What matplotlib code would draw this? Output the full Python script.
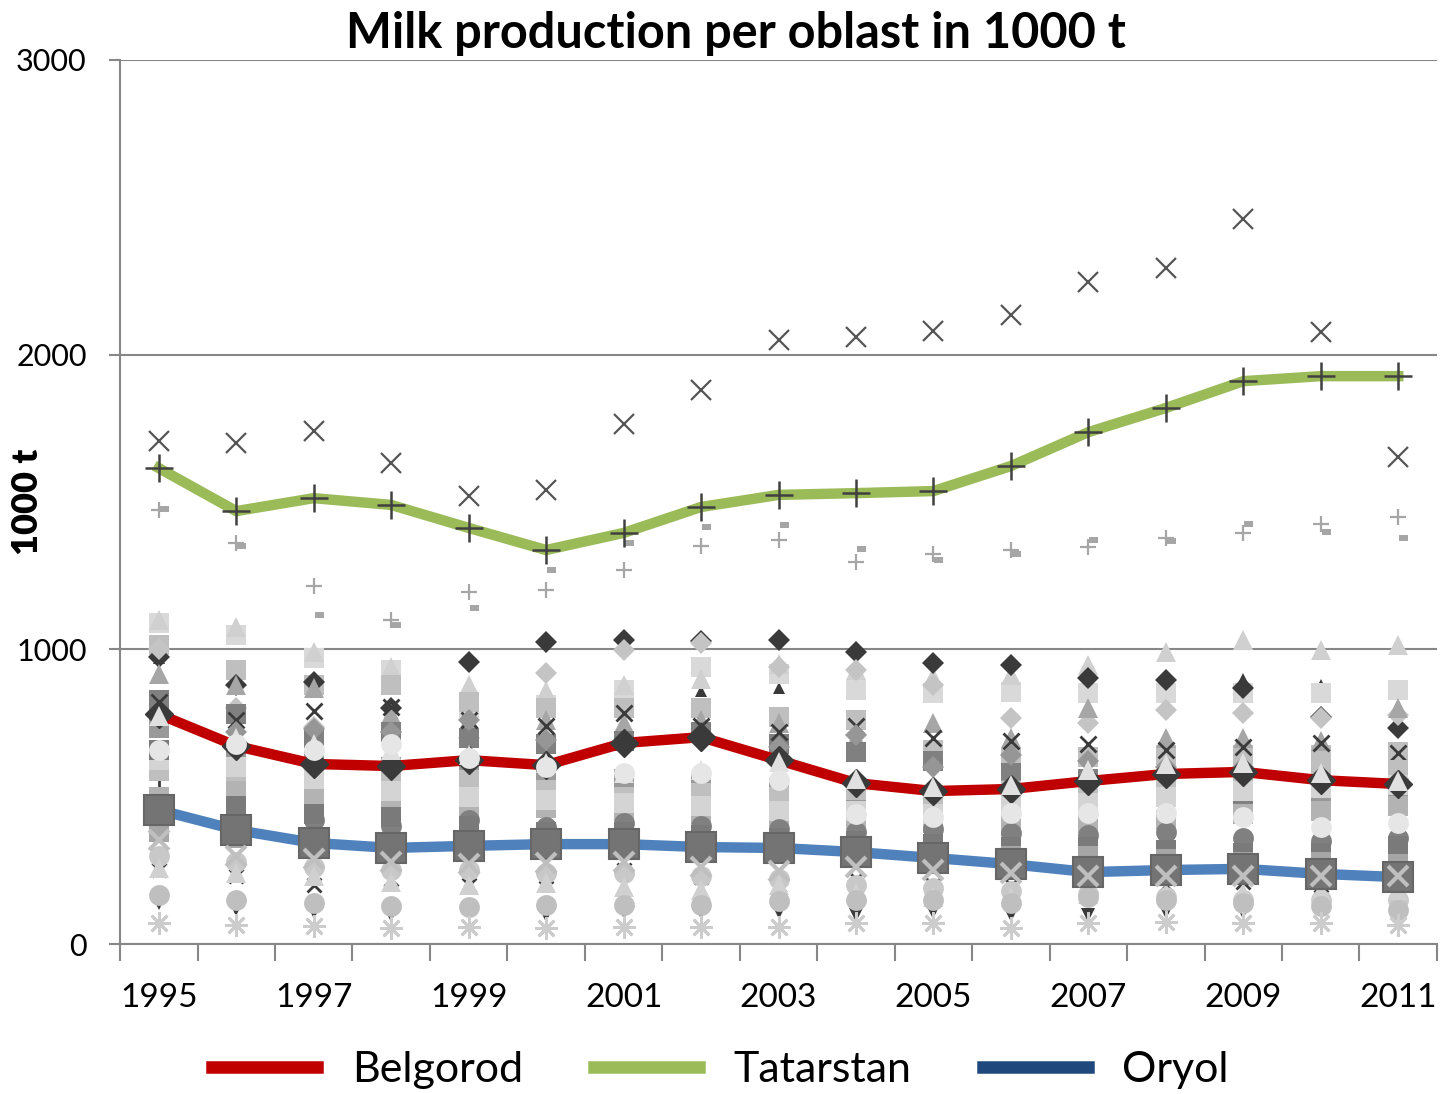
import matplotlib
matplotlib.use("Agg")
import matplotlib.pyplot as plt
from matplotlib.lines import Line2D

plt.rcParams["font.family"] = ["Lato", "DejaVu Sans"]

years = list(range(1995, 2012))
year_labels = [str(y) if (y - 1995) % 2 == 0 else "" for y in years]

# Highlighted oblasts (1000 t)
belgorod = [780, 672, 611, 604, 624, 607, 682, 702, 624, 546, 519, 526, 553, 577, 584, 556, 543]
tatarstan = [1615, 1469, 1513, 1490, 1412, 1337, 1395, 1483, 1524, 1530, 1537, 1622, 1737, 1819, 1910, 1927, 1927]
oryol = [455, 387, 343, 326, 333, 339, 339, 329, 326, 312, 292, 271, 244, 251, 255, 238, 227]

# Other oblasts, drawn as grey markers only
grey_x_top = [1707, 1700, 1741, 1632, 1520, 1541, 1765, 1880, 2050, 2060, 2080, 2134, 2246, 2294, 2460, 2077, 1653]
grey_plus_light = [1473, 1361, 1215, 1099, 1194, 1201, 1269, 1351, 1371, 1296, 1323, 1337, 1347, 1378, 1395, 1425, 1449]
grey_dash = [1475, 1351, 1116, 1082, 1140, 1269, 1361, 1415, 1422, 1340, 1303, 1323, 1371, 1367, 1425, 1398, 1378]
grey_sq_light = [1089, 1050, 970, 930, 800, 811, 862, 940, 916, 862, 852, 855, 852, 852, 852, 852, 862]
grey_tri_top = [1100, 1075, 990, 940, 880, 860, 880, 900, 950, 930, 906, 913, 947, 991, 1032, 998, 1015]
grey_sq_mid = [1015, 930, 880, 880, 820, 800, 800, 801, 770, 760, 658, 635, 635, 640, 640, 640, 650]
grey_dia_dark = [975, 880, 890, 800, 957, 1025, 1032, 1028, 1032, 991, 954, 947, 903, 895, 870, 770, 733]
grey_tri_dark = [970, 880, 890, 880, 860, 850, 880, 860, 870, 870, 870, 880, 903, 903, 900, 880, 740]
grey_dia_light = [1000, 800, 735, 720, 700, 919, 998, 1021, 940, 930, 880, 767, 750, 794, 784, 767, 777]
grey_tri_mid = [916, 880, 870, 780, 760, 760, 750, 760, 750, 700, 750, 700, 801, 700, 700, 690, 800]
grey_x_dark = [820, 760, 790, 804, 760, 740, 784, 740, 720, 740, 700, 690, 680, 660, 668, 682, 648]
grey_sq_dark = [828, 780, 700, 720, 700, 680, 690, 720, 680, 650, 620, 580, 560, 520, 489, 489, 478]
grey_dia_mid = [780, 720, 730, 720, 760, 692, 682, 690, 668, 710, 601, 640, 620, 600, 600, 560, 560]
grey_sq_grey = [733, 650, 620, 600, 590, 560, 560, 540, 530, 520, 506, 523, 520, 540, 520, 500, 510]
grey_tri_light = [773, 700, 680, 660, 640, 614, 580, 590, 618, 560, 533, 540, 590, 610, 614, 580, 553]
grey_circ_light = [660, 680, 660, 680, 630, 600, 580, 580, 556, 440, 430, 444, 444, 444, 431, 397, 410]
grey_sq_pale = [624, 600, 560, 520, 500, 490, 480, 470, 450, 450, 440, 470, 480, 500, 520, 530, 540]
grey_sq_soft = [587, 560, 540, 560, 555, 522, 499, 512, 499, 522, 506, 520, 520, 540, 560, 580, 590]
grey_sq_band = [500, 520, 500, 480, 470, 460, 450, 440, 430, 420, 410, 400, 410, 420, 440, 450, 470]
grey_plus_dark = [529, 500, 480, 470, 460, 450, 470, 470, 480, 470, 460, 450, 470, 460, 450, 460, 470]
grey_circ_dark = [420, 400, 420, 400, 420, 397, 410, 400, 390, 380, 390, 377, 370, 380, 360, 350, 360]
grey_sq_low = [380, 360, 350, 340, 330, 320, 330, 330, 320, 320, 310, 300, 300, 290, 280, 280, 270]
grey_sq_x = [658, 470, 440, 430, 400, 380, 380, 370, 360, 350, 340, 330, 330, 320, 309, 309, 333]
grey_x_light = [353, 300, 290, 280, 270, 275, 280, 260, 248, 260, 250, 240, 230, 230, 230, 230, 230]
grey_circ_low = [300, 280, 260, 250, 250, 240, 240, 230, 220, 200, 190, 180, 170, 160, 150, 150, 150]
grey_tri_low = [258, 240, 230, 210, 200, 207, 193, 183, 200, 173, 160, 160, 170, 173, 173, 180, 183]
grey_x_small = [251, 230, 200, 220, 200, 230, 250, 227, 200, 220, 200, 200, 210, 200, 210, 200, 220]
grey_circ_bottom = [166, 150, 140, 130, 125, 132, 132, 132, 146, 149, 150, 140, 160, 150, 140, 130, 115]
grey_v_dark = [139, 120, 110, 100, 110, 100, 110, 110, 110, 100, 110, 100, 100, 110, 110, 120, 139]
grey_star_light = [71, 65, 60, 55, 58, 54, 58, 58, 58, 71, 71, 54, 71, 75, 71, 71, 64]

x = list(range(len(years)))

fig = plt.figure(figsize=(14.41, 10.94), dpi=100)
ax = fig.add_axes([0.0833, 0.1371, 0.9139, 0.8081])

dash_marker = [(0.15, -0.35), (1.0, -0.35), (1.0, 0.35), (0.15, 0.35)]


def pts(vals, marker, color, ms, mew=0.0, z=2, filled=True):
    if filled:
        ax.plot(x, vals, linestyle="none", marker=marker, markersize=ms,
                markerfacecolor=color, markeredgecolor=color, markeredgewidth=mew,
                zorder=z)
    else:
        ax.plot(x, vals, linestyle="none", marker=marker, markersize=ms,
                color=color, markeredgewidth=mew, zorder=z)


# grey cloud (dark small marks first so that larger squares partly cover them)
pts(grey_tri_dark, "^", "#3A3A3A", 8)
pts(grey_plus_dark, "+", "#3A3A3A", 12, 2.0, filled=False)
pts(grey_x_small, "x", "#3A3A3A", 10, 2.0, filled=False)
pts(grey_v_dark, "v", "#3A3A3A", 10)
pts(grey_sq_light, "s", "#D9D9D9", 15)
pts(grey_tri_top, "^", "#D0D0D0", 15)
pts(grey_sq_mid, "s", "#BFBFBF", 15)
pts(grey_dia_dark, "D", "#3A3A3A", 11)
pts(grey_dia_light, "D", "#C4C4C4", 11)
pts(grey_tri_mid, "^", "#A6A6A6", 14)
pts(grey_sq_dark, "s", "#808080", 15)
pts(grey_x_dark, "x", "#3A3A3A", 11, 2.0, filled=False)
pts(grey_dia_mid, "D", "#969696", 11)
pts(grey_sq_grey, "s", "#999999", 15)
pts(grey_sq_soft, "s", "#BFBFBF", 15)
pts(grey_sq_band, "s", "#B3B3B3", 15)
pts(grey_sq_pale, "s", "#D4D4D4", 15)
pts(grey_circ_dark, "o", "#808080", 15)
pts(grey_sq_x, "s", "#7A7A7A", 15)
pts(grey_sq_low, "s", "#A6A6A6", 15)
pts(grey_circ_low, "o", "#C8C8C8", 15)
pts(grey_tri_low, "^", "#D0D0D0", 15)
pts(grey_circ_bottom, "o", "#BFBFBF", 15)
pts(grey_star_light, (8, 2, 0), "#CCCCCC", 16, 2.0, filled=False)
pts(grey_plus_light, "+", "#A6A6A6", 12, 1.6, filled=False)
pts(grey_dash, dash_marker, "#A6A6A6", 14)

# highlighted oblasts
ax.plot(x, oryol, color="#4F81BD", lw=7.5, marker="s", markersize=22,
        markerfacecolor="#747474", markeredgecolor="#666666", markeredgewidth=1.5,
        solid_joinstyle="round", zorder=3)
ax.plot(x, belgorod, color="#C00000", lw=7.5, marker="D", markersize=14,
        markerfacecolor="#3A3A3A", markeredgecolor="#3A3A3A",
        solid_joinstyle="round", zorder=4)
ax.plot(x, tatarstan, color="#9BBB59", lw=7.5, solid_joinstyle="round", zorder=4)
ax.plot(x, tatarstan, linestyle="none", marker="+", markersize=20, color="#404040",
        markeredgewidth=1.8, zorder=5)

# grey markers layered above the lines
pts(grey_tri_light, "^", "#E0E0E0", 15, z=5)
pts(grey_circ_light, "o", "#E6E6E6", 15, z=5)
pts(grey_x_light, "x", "#BFBFBF", 14, 3.0, z=5, filled=False)
pts(grey_x_top, "x", "#555555", 15, 1.6, z=5, filled=False)

# axes styling
ax.set_xlim(-0.5, len(years) - 0.5)
ax.set_ylim(0, 3000)
ax.set_yticks([0, 1000, 2000, 3000])
ax.yaxis.grid(True, color="#878787", lw=1.5)
ax.set_axisbelow(True)
for s in ["top", "right"]:
    ax.spines[s].set_visible(False)
for s in ["left", "bottom"]:
    ax.spines[s].set_color("#878787")
    ax.spines[s].set_linewidth(1.5)

ax.set_xticks([i - 0.5 for i in range(len(years) + 1)])
ax.set_xticklabels([])
ax.tick_params(axis="x", which="major", length=12, width=1.5, color="#878787", direction="out")
ax.set_xticks(x, minor=True)
ax.set_xticklabels(year_labels, minor=True, fontsize=24)
ax.tick_params(axis="x", which="minor", length=0, pad=28)
ax.tick_params(axis="y", length=8, width=1.5, color="#878787", labelsize=22, pad=16)

ax.set_ylabel("1000 t", fontsize=26, fontweight="heavy")
ax.yaxis.set_label_coords(-0.058, 0.5)

fig.text(0.511, 1 - 33 / 1094, "Milk production per oblast in 1000 t",
         fontsize=35, fontweight="bold", ha="center", va="center")

handles = [Line2D([], [], color="#C00000", lw=9),
           Line2D([], [], color="#9BBB59", lw=9),
           Line2D([], [], color="#1F497D", lw=9)]
fig.legend(handles, ["Belgorod", "Tatarstan", "Oryol"], loc="center",
           bbox_to_anchor=(0.5, 0.022), ncol=3, frameon=False, fontsize=31,
           handlelength=2.44, handletextpad=0.8, columnspacing=1.65)

fig.savefig("out.png", dpi=100)
